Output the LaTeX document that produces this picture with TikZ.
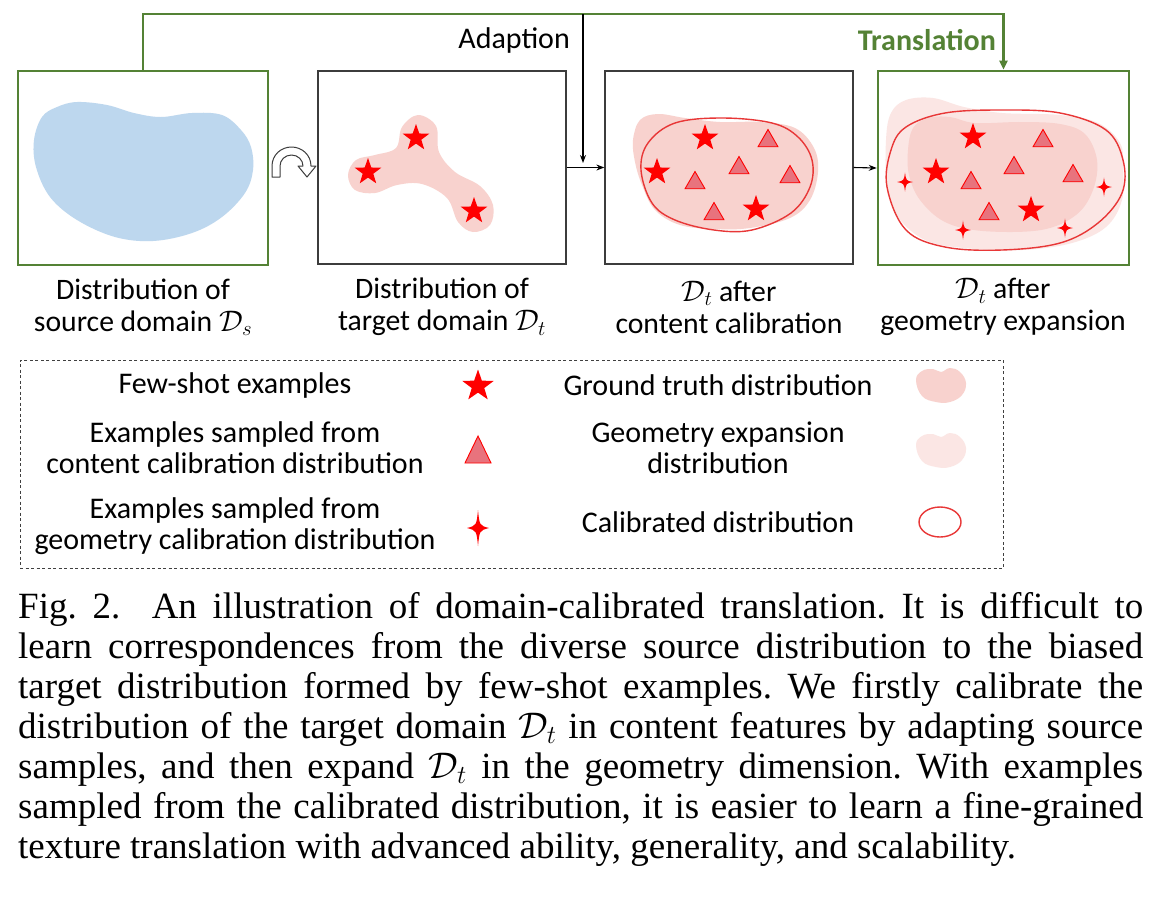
\RequirePackage{fix-cm}
\documentclass[tikz,border=0pt]{standalone}
\usepackage{fontspec}
\setmainfont{Carlito}
\newfontfamily\capfont{Liberation Serif}
\usetikzlibrary{arrows.meta,shapes.geometric}
\definecolor{gr}{RGB}{84,130,53}
\definecolor{gtpink}{RGB}{248,210,206}
\definecolor{expink}{RGB}{251,230,228}
\definecolor{srcblue}{RGB}{189,215,238}
\definecolor{boxgray}{RGB}{60,60,60}
\definecolor{trifill}{RGB}{232,115,125}
\definecolor{calred}{RGB}{232,55,55}
\tikzset{
  gbox/.style={draw=gr, line width=2.6pt, inner sep=0pt},
  kbox/.style={draw=boxgray, line width=1.3pt, inner sep=0pt},
  gline/.style={draw=gr, line width=2.4pt},
  kline/.style={draw=black, line width=1.1pt},
  lbl/.style={align=center, inner sep=0pt, font=\fontsize{29.7}{32}\selectfont},
  leg/.style={align=center, inner sep=0pt, font=\fontsize{30}{31}\selectfont},
  fewshot/.style={star, star points=5, star point ratio=2.5, fill=red, inner sep=0pt, minimum size=28pt},
  samptri/.style={regular polygon, regular polygon sides=3, fill=trifill, draw=red, line width=0.9pt, inner sep=0pt, minimum size=23pt},
  calline/.style={draw=calred, line width=1.4pt},
  legbox/.style={draw=black!75, dashed, dash pattern=on 3pt off 2.5pt, line width=1pt, inner sep=0pt},
  spark/.pic={\path[fill=red] (0,-1) .. controls (0.14,-0.14) .. (1,0) .. controls (0.14,0.14) .. (0,1) .. controls (-0.14,0.14) .. (-1,0) .. controls (-0.14,-0.14) .. (0,-1) -- cycle;}
}
\begin{document}
\frenchspacing
\begin{tikzpicture}[x=1pt,y=-1pt]
\path[use as bounding box, fill=white] (0,0) rectangle (1159,906);

% ---- box 1 : source ----
\fill[srcblue] plot[smooth cycle, tension=0.6] coordinates {(57,107) (77,102) (107,105) (134,113) (161,117) (192,113) (222,115) (241,130) (251,147) (253,170) (245,193) (222,217) (192,233) (153,241) (115,237) (77,220) (50,197) (36,167) (34,140) (42,117)};
\node[gbox, minimum width=250pt, minimum height=194pt] (b1) at (143,168) {};

% ---- box 2 : target ----
\fill[gtpink] plot[smooth cycle, tension=0.6] coordinates {(348,175) (356,160) (375,155) (396,148) (402,127) (418,115) (436,126) (439,152) (455,172) (480,186) (493,205) (490,225) (473,232) (458,222) (447,198) (422,184) (397,185) (375,193) (355,190)};
\node[kbox, minimum width=248pt, minimum height=193pt] (b2) at (442,167.5) {};
\node[fewshot] (s21) at (368,172) {};
\node[fewshot] (s22) at (416,138) {};
\node[fewshot] (s23) at (474,211) {};

% ---- box 3 : content calibration ----
\fill[gtpink] plot[smooth cycle, tension=0.6] coordinates {(633,140) (640,120) (658,114) (685,118) (720,122) (760,122) (795,128) (814,148) (818,172) (810,200) (790,218) (750,228) (715,229) (680,225) (655,210) (642,185) (635,162)};
\draw[calline] plot[smooth cycle, tension=0.6] coordinates {(641,170) (648,143) (675,123) (722,118) (772,123) (798,137) (812,160) (810,187) (791,213) (752,230) (714,230) (675,220) (652,203)};
\node[kbox, minimum width=248pt, minimum height=193pt] (b3) at (729,167.5) {};
\node[fewshot] (s31) at (705,138) {};
\node[fewshot] (s32) at (657,172) {};
\node[fewshot] (s33) at (756,209) {};
\node[samptri] (t31) at (768,141) {};
\node[samptri] (t32) at (739,168) {};
\node[samptri] (t33) at (790,177) {};
\node[samptri] (t34) at (695,183) {};
\node[samptri] (t35) at (714,214) {};

% ---- box 4 : geometry expansion ----
\fill[expink] plot[smooth cycle, tension=0.6] coordinates {(886,140) (891,113) (906,100) (933,98) (964,107) (1002,113) (1060,115) (1098,123) (1120,143) (1123,167) (1122,200) (1106,227) (1072,243) (1022,250) (964,248) (925,240) (898,217) (887,187)};
\fill[gtpink] plot[smooth cycle, tension=0.6] coordinates {(908,150) (913,128) (928,118) (950,117) (975,123) (1021,122) (1060,124) (1085,134) (1097,160) (1093,190) (1076,215) (1041,230) (983,231) (945,222) (920,200) (909,175)};
\draw[calline] plot[smooth cycle, tension=0.6] coordinates {(887,187) (891,150) (906,127) (945,113) (1002,110) (1060,113) (1106,130) (1123,160) (1122,193) (1098,223) (1060,243) (1002,250) (945,247) (906,230)};
\node[gbox, minimum width=251pt, minimum height=194pt] (b4) at (1003.5,168) {};
\node[fewshot] (s41) at (973,137) {};
\node[fewshot] (s42) at (936,172) {};
\node[fewshot] (s43) at (1031,210) {};
\node[samptri] (t41) at (1043,141) {};
\node[samptri] (t42) at (1014,168) {};
\node[samptri] (t43) at (1073,176) {};
\node[samptri] (t44) at (971,183) {};
\node[samptri] (t45) at (989,214) {};
\pic[xscale=8,yscale=9.5] at (905,182) {spark};
\pic[xscale=8,yscale=9.5] at (1104,187) {spark};
\pic[xscale=8,yscale=9.5] at (963,230) {spark};
\pic[xscale=8,yscale=9.5] at (1065,228) {spark};

% ---- connectors ----
\coordinate (gtop) at (583,14);
\coordinate (adend) at (583,163);
\draw[gline, -{Triangle[length=9pt,width=8pt]}] (b1.north) |- (gtop) -| (b4.north);
\draw[kline, -{Stealth[length=8pt,width=6pt]}] (gtop) -- (adend);
\draw[kline, -{Stealth[length=8pt,width=6pt]}] (b2.east) -- (b3.west);
\draw[kline, -{Stealth[length=8pt,width=6pt]}] (b3.east) -- (b4.west);
\node[anchor=east, inner sep=0pt, font=\fontsize{30}{32}\selectfont] (adapt) at (570,40) {Adaption};
\node[anchor=east, inner sep=0pt, text=gr, font=\bfseries\fontsize{30}{32}\selectfont] (trans) at (996,40) {Translation};

% curved (flip) arrow between box 1 and box 2
\draw[draw=boxgray, fill=white, line width=1pt, line join=round]
  (272,177) -- (272,166) .. controls (272,155) and (281,147) .. (291.5,147)
  .. controls (302,147) and (311,155) .. (311,166) -- (316,166) -- (307,177) -- (298,166) -- (303,166)
  .. controls (303,160) and (298,155) .. (291.5,155) .. controls (285,155) and (280,160) .. (280,166)
  -- (280,177) -- cycle;

% ---- labels ----
\node[lbl] (l1) at (143,307) {Distribution of\\source domain $\mathcal{D}_s$};
\node[lbl] (l2) at (442,307) {Distribution of\\target domain $\mathcal{D}_t$};
\node[lbl] (l3) at (729,307) {$\mathcal{D}_t$ after\\content calibration};
\node[lbl] (l4) at (1003,307) {$\mathcal{D}_t$ after\\geometry expansion};

% ---- legend ----
\node[legbox, minimum width=983pt, minimum height=208pt] (legend) at (511.5,464) {};
\node[leg] (lg1) at (235,385) {Few-shot examples};
\node[leg] (lg2) at (235,448) {Examples sampled from\\content calibration distribution};
\node[leg] (lg3) at (235,526) {Examples sampled from\\geometry calibration distribution};
\node[leg] (lg4) at (718,385) {Ground truth distribution};
\node[leg] (lg5) at (718,448) {Geometry expansion\\distribution};
\node[leg] (lg6) at (718,522) {Calibrated distribution};
\node[fewshot, minimum size=33pt] (lgs1) at (478,386) {};
\draw[fill=trifill, draw=red, line width=0.9pt] (478,436) -- (491,463) -- (465,463) -- cycle;
\pic[xscale=11,yscale=18] at (478,528) {spark};
\fill[gtpink] plot[smooth cycle, tension=0.7] coordinates {(916,380) (922,371) (933,369) (941,372) (950,368) (960,372) (966,383) (962,395) (950,402) (936,402) (922,396)};
\fill[expink] plot[smooth cycle, tension=0.7] coordinates {(916,445) (922,436) (933,434) (941,437) (950,433) (960,437) (966,448) (962,460) (950,467) (936,467) (922,461)};
\draw[calline] (940,522) ellipse (21 and 15);

% ---- caption ----
\node[anchor=north west, text width=1125pt, align=justify, inner sep=0pt,
      font=\capfont\fontsize{37}{40}\selectfont] (cap) at (18,592)
{Fig. 2.\ \ An illustration of domain-calibrated translation. It is difficult to\linebreak
learn correspondences from the diverse source distribution to the biased\linebreak
target distribution formed by few-shot examples. We firstly calibrate the\linebreak
distribution of the target domain $\mathcal{D}_t$ in content features by adapting source\linebreak
samples, and then expand $\mathcal{D}_t$ in the geometry dimension. With examples\linebreak
sampled from the calibrated distribution, it is easier to learn a fine-grained\linebreak
texture translation with advanced ability, generality, and scalability.};
\end{tikzpicture}
\end{document}
